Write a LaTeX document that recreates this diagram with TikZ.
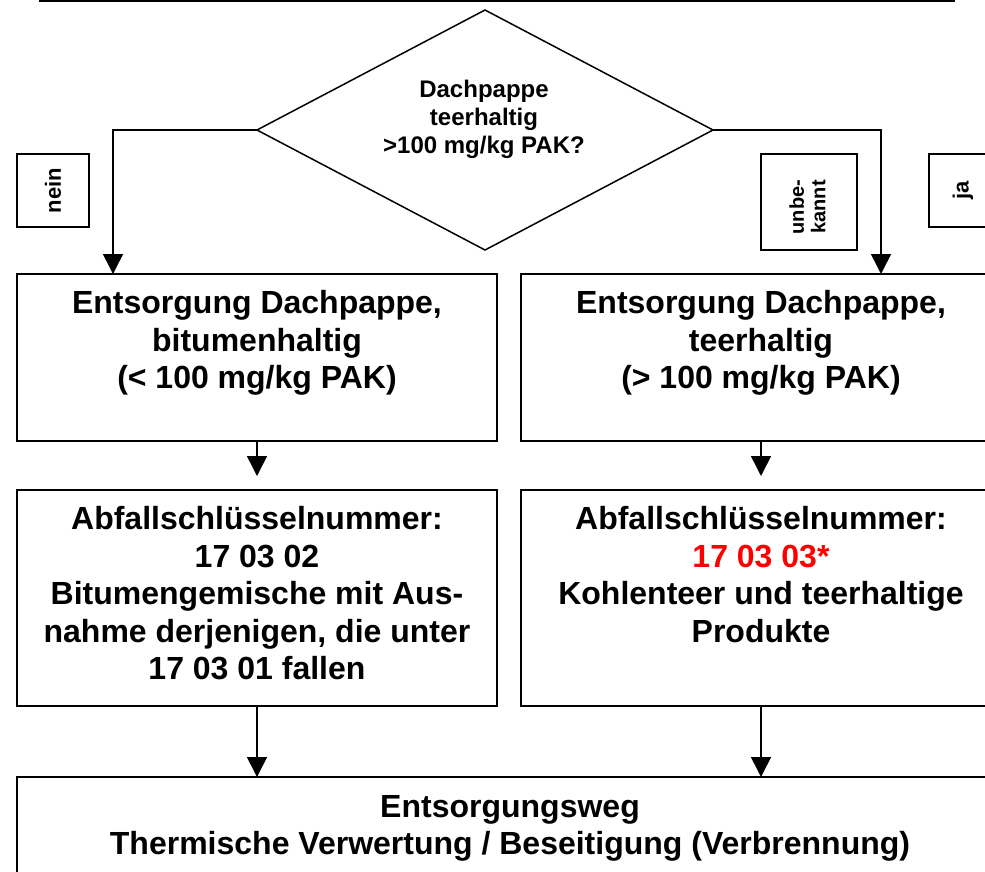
\documentclass[tikz,border=0pt]{standalone}
\usepackage{fontspec}
\setmainfont{Liberation Sans}
\usetikzlibrary{shapes.geometric,arrows.meta}
\newcommand\tstr[1]{\rule{0pt}{#1}}
\begin{document}
\begin{tikzpicture}[x=1pt,y=-1pt,line width=1.5pt,
  box/.style={draw,rectangle,inner sep=0pt,outer sep=0pt},
  txt/.style={font=\bfseries\fontsize{32}{37.5}\selectfont,align=center,inner sep=0pt,anchor=north},
  dtxt/.style={font=\bfseries\fontsize{24}{28}\selectfont,align=center,inner sep=0pt,anchor=north},
  lbl/.style={font=\bfseries\fontsize{22}{24}\selectfont,align=center,inner sep=0pt,rotate=90},
  lbls/.style={font=\bfseries\fontsize{20}{21.5}\selectfont,align=center,inner sep=0pt,rotate=90},
  arr/.style={-{Triangle[length=20pt,width=20pt]}}]
\useasboundingbox (0,0) rectangle (985,871);
\clip (0,0) rectangle (985,871);
% box above (only its bottom edge visible)
\node[box,minimum width=914pt,minimum height=101pt] (top) at (497,-49.5) {};
% decision
\node[draw,diamond,minimum width=456pt,minimum height=240pt,inner sep=0pt,outer sep=0pt] (dec) at (485,130) {};
\node[dtxt] (dect) at (484,78) {\tstr{19pt}Dachpappe\\teerhaltig\\>100 mg/kg PAK?};
% labels
\node[box,minimum width=72pt,minimum height=73pt] (ln) at (53,190.5) {};
\node[lbl] (lnt) at (53,190.5) {nein};
\node[box,minimum width=96pt,minimum height=96pt] (lu) at (809,202) {};
\node[lbls] (lut) at (807.5,207) {unbe-\\kannt};
\node[box,minimum width=72pt,minimum height=73pt] (lj) at (965,190.5) {};
\node[lbl] (ljt) at (963,190.5) {ja};
% first row
\node[box,minimum width=480pt,minimum height=167pt] (b1l) at (257,357.5) {};
\node[box,minimum width=480pt,minimum height=167pt] (b1r) at (761,357.5) {};
\node[txt] (t1l) at (257,288) {\tstr{25pt}Entsorgung Dachpappe,\\bitumenhaltig\\(< 100 mg/kg PAK)};
\node[txt] (t1r) at (761,288) {\tstr{25pt}Entsorgung Dachpappe,\\teerhaltig\\(> 100 mg/kg PAK)};
% second row
\node[box,minimum width=480pt,minimum height=216pt] (b2l) at (257,598) {};
\node[box,minimum width=480pt,minimum height=216pt] (b2r) at (761,598) {};
\node[txt] (t2l) at (257,504) {\tstr{25pt}Abfallschlüsselnummer:\\17 03 02\\Bitumengemische mit Aus-\\nahme derjenigen, die unter\\17 03 01 fallen};
\node[txt] (t2r) at (761,504) {\tstr{25pt}Abfallschlüsselnummer:\\\textcolor{red}{17 03 03*}\\Kohlenteer und teerhaltige\\Produkte};
% bottom
\node[box,minimum width=984pt,minimum height=143pt] (bot) at (509,848.5) {};
\node[txt,font=\bfseries\fontsize{32}{36.5}\selectfont] (t3) at (510,792) {\tstr{25pt}Entsorgungsweg\\Thermische Verwertung / Beseitigung (Verbrennung)};
% connectors
\draw[arr] (dec.west) -| ([xshift=96pt]b1l.north west);
\draw[arr] (dec.east) -| ([xshift=-120pt]b1r.north east);
\draw[arr] (b1l.south) -- ([yshift=14pt]b2l.north);
\draw[arr] (b1r.south) -- ([yshift=14pt]b2r.north);
\draw[arr] (b2l.south) -- (b2l.south |- bot.north);
\draw[arr] (b2r.south) -- (b2r.south |- bot.north);
\end{tikzpicture}
\end{document}
